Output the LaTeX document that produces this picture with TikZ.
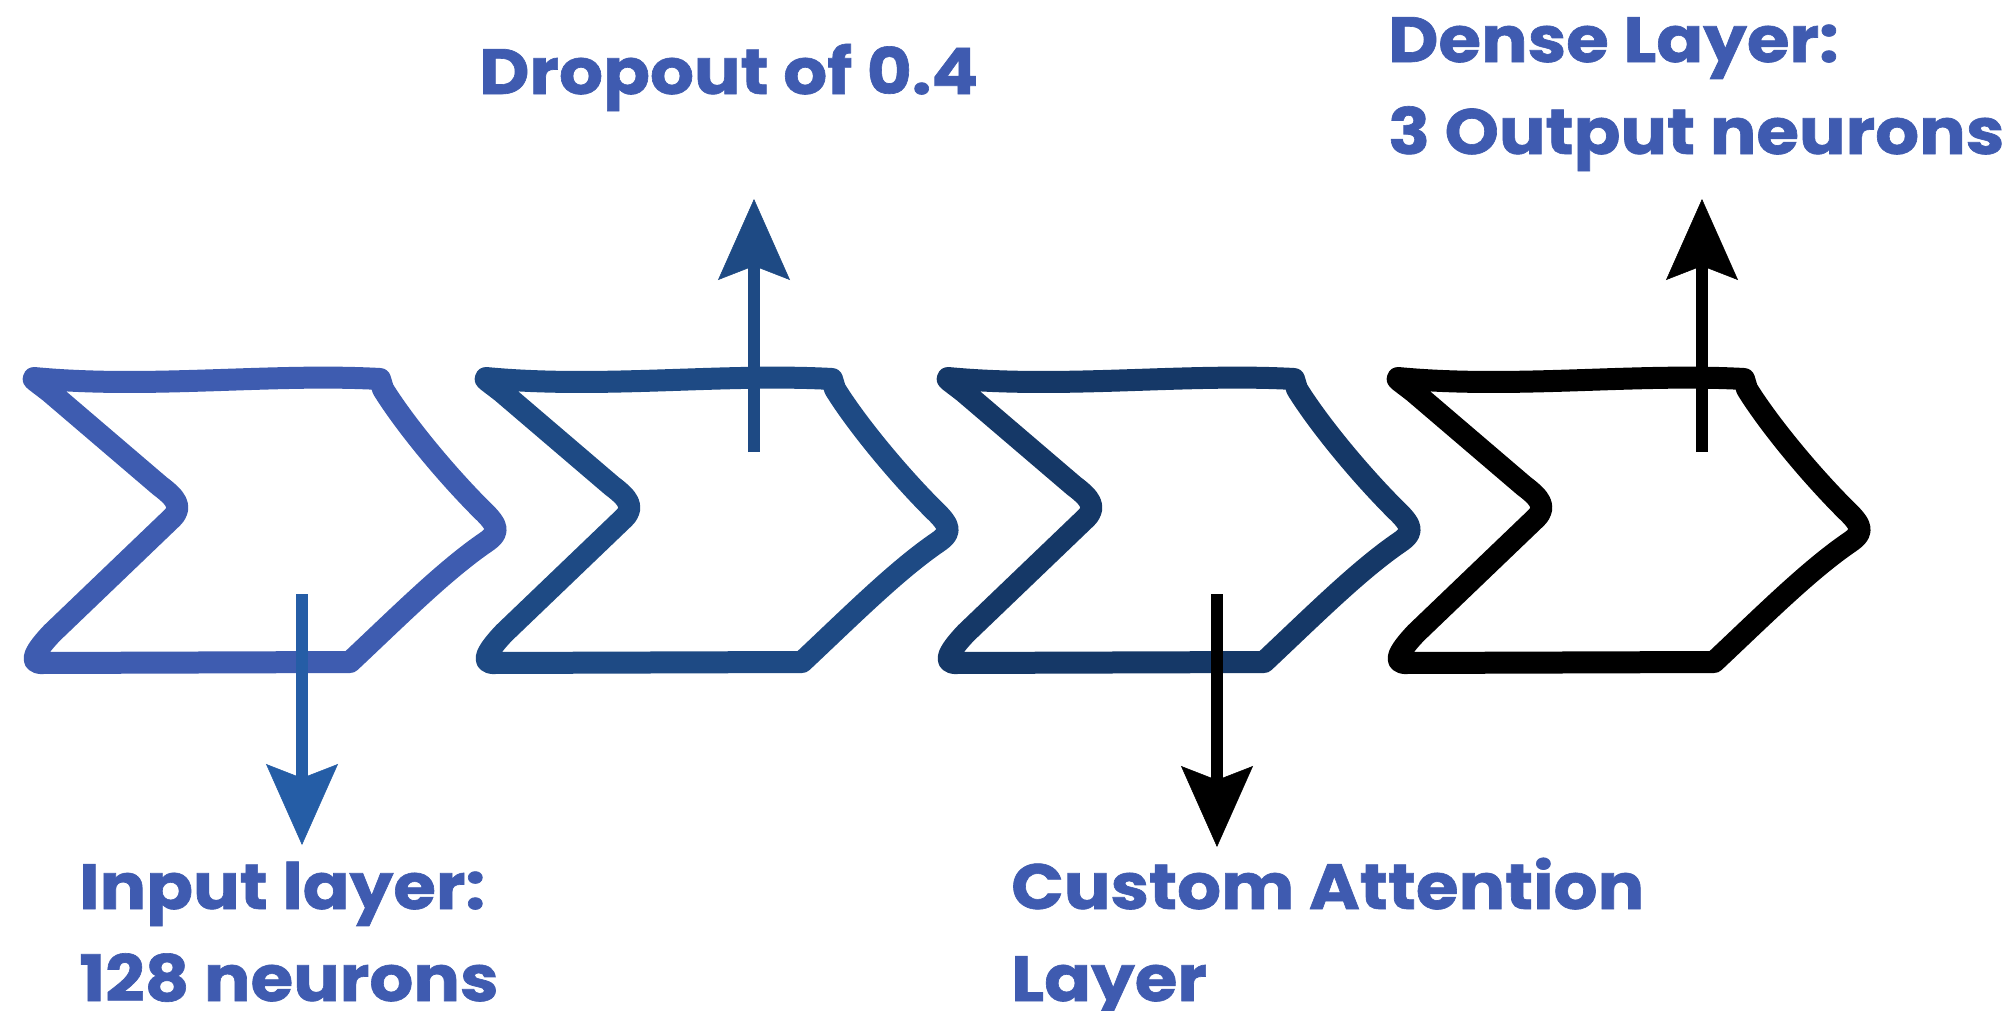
\documentclass[tikz,border=0pt]{standalone}
\usepackage{fontspec}
\newfontfamily\lab{Poppins}[FakeStretch=1.08, FakeBold=1]
\usetikzlibrary{arrows.meta}
\definecolor{cA}{RGB}{62,92,176}
\definecolor{cB}{RGB}{30,74,132}
\definecolor{cC}{RGB}{21,56,103}
\definecolor{cArr}{RGB}{37,93,166}
\definecolor{cTxt}{RGB}{63,91,176}
\tikzset{
  chevron/.pic={
    \draw[line width=22pt, line cap=round, line join=round]
      (34,378) .. controls (150,389) and (270,373) .. (380,379)
      -- (383,389)
      .. controls (402,420) and (442,470) .. (482,510)
      .. controls (500,527) and (499,533) .. (486,542)
      .. controls (445,570) and (400,615) .. (350,662)
      -- (40,663)
      .. controls (30,662) and (34,652) .. (52,633)
      -- (172,518)
      .. controls (183,507) and (176,498) .. (160,486)
      -- (50,392)
      .. controls (36,381) and (32,379) .. (34,378) -- cycle;
  },
  flow/.style={line width=12pt, -{Stealth[length=81pt,width=72pt,inset=14pt,line width=0.5pt]}},
  lbl/.style={font=\lab\bfseries\fontsize{64}{92}\selectfont, text=cTxt, inner sep=0pt, align=left, anchor=base west}
}
\begin{document}
\begin{tikzpicture}[x=1pt,y=-1pt]
\useasboundingbox (0,0) rectangle (2013,1010);
\fill[white] (0,0) rectangle (2013,1010);
% chevrons
\pic[cA] at (0,0) {chevron};
\pic[cB] at (452,0) {chevron};
\pic[cC] at (914,0) {chevron};
\pic[black] at (1364,0) {chevron};
% labels (anchor at baseline of last line)
\node[lbl] (drop) at (479,94) {Dropout of 0.4};
\node[lbl] (dense) at (1388,154) {Dense Layer:\\3 Output neurons};
\node[lbl] (inp) at (79,1001) {Input layer:\\128 neurons};
\node[lbl] (att) at (1011,1001) {Custom Attention\\Layer};
% arrow ends
\coordinate (a1s) at (302,594);
\coordinate (a1e) at (302,845);
\coordinate (a2s) at (754,452);
\coordinate (a2e) at (754,199);
\coordinate (a3s) at (1217,594);
\coordinate (a3e) at (1217,847);
\coordinate (a4s) at (1702,452);
\coordinate (a4e) at (1702,199);
\draw[flow, cArr] (a1s) -- (a1e);
\draw[flow, cB] (a2s) -- (a2e);
\draw[flow, black] (a3s) -- (a3e);
\draw[flow, black] (a4s) -- (a4e);
\end{tikzpicture}
\end{document}
